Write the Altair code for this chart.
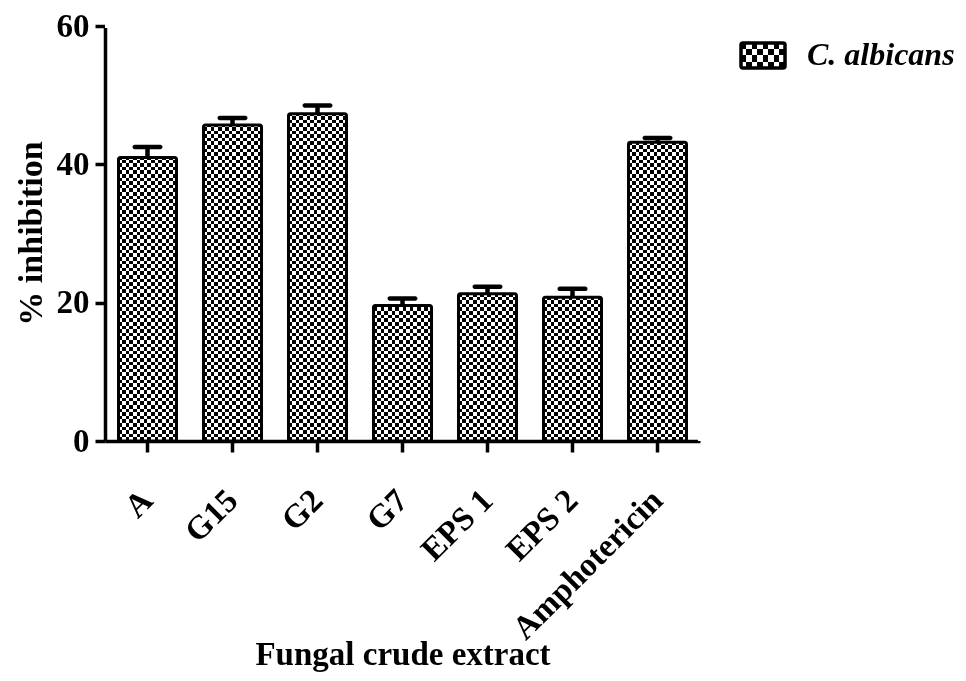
import altair as alt
import pandas as pd

# ---- data ----
categories = ["A", "G15", "G2", "G7", "EPS 1", "EPS 2", "Amphotericin"]
inhibition = [41.0, 45.7, 47.3, 19.6, 21.3, 20.8, 43.2]
sem = [1.5, 1.0, 1.2, 1.0, 1.0, 1.2, 0.6]
y_ticks = [0, 20, 40, 60]
series_name = ["C. albicans"]

df = pd.DataFrame({"cat": categories, "val": inhibition, "err": sem})
df["hi"] = df["val"] + df["err"]
df["top"] = y_ticks[-1]
df["zero"] = y_ticks[0]

FONT = "Liberation Serif"


def stripes(n, horizontal):
    stops = []
    for i in range(n):
        c = "#000000" if i % 2 == 0 else "#ffffff"
        stops.append({"offset": i / n, "color": c})
        stops.append({"offset": (i + 1) / n, "color": c})
    return {
        "gradient": "linear",
        "x1": 0, "y1": 0,
        "x2": 0 if horizontal else 1,
        "y2": 1 if horizontal else 0,
        "stops": stops,
    }


xaxis = alt.Axis(
    labelAngle=-45, labelAlign="right", labelBaseline="middle", labelPadding=43,
    labelLimit=0,
    labelFont=FONT, labelFontSize=33, labelFontWeight="bold", labelColor="black",
    tickSize=11, tickWidth=3.5, tickColor="black",
    domainWidth=3.5, domainColor="black", grid=False,
    title="Fungal crude extract", titleFont=FONT, titleFontSize=33,
    titleFontWeight="bold", titleColor="black",
    titleY=223, titleBaseline="alphabetic",
)
yaxis = alt.Axis(
    values=y_ticks, labelPadding=6,
    labelFont=FONT, labelFontSize=33, labelFontWeight="bold", labelColor="black",
    tickSize=10, tickWidth=3.5, tickColor="black",
    domainWidth=3.5, domainColor="black", grid=False,
    title="% inhibition", titleFont=FONT, titleFontSize=34,
    titleFontWeight="bold", titleColor="black",
    titleX=-74, titleY=207, titleAngle=270, titleAlign="center", titleBaseline="middle",
)
xscale = alt.Scale(paddingInner=0, paddingOuter=0)
yscale = alt.Scale(domain=[y_ticks[0], y_ticks[-1]], nice=False)


def X():
    return alt.X("cat:N", sort=categories, scale=xscale, axis=xaxis, title="Fungal crude extract")


def Y(field):
    return alt.Y(field, type="quantitative", scale=yscale, axis=yaxis, title="% inhibition")


base = alt.Chart(df)

BAR_W = 58

# vertical stripes
l1 = base.mark_bar(size=BAR_W, fill=stripes(16, False), strokeWidth=0).encode(
    x=X(), y=Y("val"), y2="zero"
)
# horizontal stripes, xor via difference blend -> checkerboard
l2 = base.mark_bar(size=BAR_W, fill=stripes(115, True), strokeWidth=0, blend="difference").encode(
    x=X(), y=Y("top"), y2="zero"
)
# white cover above bars
l3 = base.mark_bar(size=BAR_W + 6, fill="white", strokeWidth=0).encode(
    x=X(), y=Y("val"), y2="top"
)
# white clean-up along the plot edges (top and right)
edge = alt.Chart(pd.DataFrame({"top": [y_ticks[-1]]}))
e1 = edge.mark_rule(color="white", strokeWidth=4).encode(y=Y("top"))
e2 = edge.mark_rule(color="white", strokeWidth=4).encode(x=alt.value(595))
# outline
l4 = base.mark_bar(size=BAR_W, fill="white", fillOpacity=0, stroke="black",
                   strokeWidth=3, cornerRadius=2).encode(
    x=X(), y=Y("val"), y2="zero"
)
# error bars
l5 = base.mark_rule(color="black", strokeWidth=4.5).encode(
    x=X(), y=Y("val"), y2="hi"
)
l6 = base.mark_tick(color="black", size=30, thickness=4.5, orient="horizontal",
                    cornerRadius=2.2, opacity=1).encode(
    x=X(), y=Y("hi")
)

# legend
leg = alt.Chart(pd.DataFrame({"label": series_name}))
s1 = leg.mark_rect(fill=stripes(8, False)).encode(
    x=alt.value(636), x2=alt.value(680), y=alt.value(17), y2=alt.value(42)
)
s2 = leg.mark_rect(fill=stripes(4, True), blend="difference").encode(
    x=alt.value(636), x2=alt.value(680), y=alt.value(17), y2=alt.value(42)
)
s3 = leg.mark_rect(fill="white", fillOpacity=0, stroke="black", strokeWidth=3.5,
                   cornerRadius=2).encode(
    x=alt.value(636), x2=alt.value(680), y=alt.value(17), y2=alt.value(42)
)
txt = leg.mark_text(align="left", baseline="alphabetic", font=FONT, fontSize=32,
                    fontWeight="bold", fontStyle="italic", color="black").encode(
    x=alt.value(702), y=alt.value(39), text="label:N"
)

chart = alt.layer(l1, l2, l3, e1, e2, l4, l5, l6, s1, s2, s3, txt).properties(
    width=595, height=415,
    autosize=alt.AutoSizeParams(type="none"),
    padding={"left": 97, "top": 18, "right": 256, "bottom": 231},
).configure_view(stroke=None, fill="white").configure_axis(zindex=1).configure(background="white")

chart.save("out.html", embed_options={"renderer": "svg", "actions": False})
